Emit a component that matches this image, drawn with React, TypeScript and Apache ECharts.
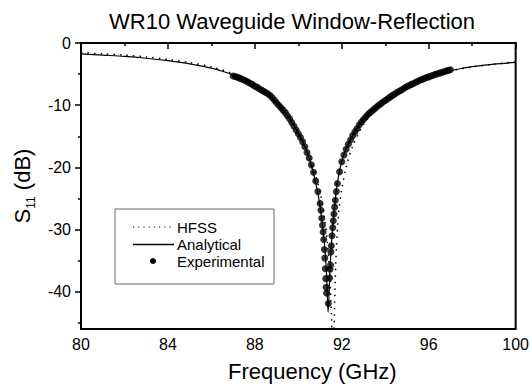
import React, { useEffect, useRef } from "react";
import * as echarts from "echarts";

const FONT = "'Liberation Sans', Arial, Helvetica, sans-serif";

const titleText = "WR10 Waveguide Window-Reflection";
const xName = "Frequency (GHz)";
const legendNames = ["HFSS", "Analytical", "Experimental"];

const xTicks = [80, 84, 88, 92, 96, 100];
const yMajorTicks = [-40, -30, -20, -10, 0];
const yMinorTicks = [-45, -35, -25, -15, -5];

const analyticalFreq = [
  80, 81, 82, 83, 84, 85, 86, 86.5, 87, 87.5, 88, 88.5, 89, 89.5, 90, 90.3, 90.5, 90.7, 90.9,
  91.0, 91.1, 91.2, 91.3, 91.37, 91.44, 91.5, 91.6, 91.7, 91.8, 92.0, 92.2, 92.5, 93.0, 93.5,
  94.0, 94.5, 95.0, 95.5, 96.0, 96.5, 97.0, 97.5, 98.0, 99.0, 100,
];
const analyticalS11 = [
  -1.75, -1.95, -2.15, -2.45, -2.85, -3.35, -4.05, -4.55, -5.15, -5.95, -6.95, -8.15, -9.7,
  -11.7, -14.5, -16.7, -18.6, -21.0, -24.2, -26.3, -29.0, -32.3, -37.2, -43.3, -38.0, -33.6,
  -28.8, -25.2, -22.4, -19.0, -17.0, -14.9, -12.3, -10.6, -9.25, -8.05, -7.0, -6.15, -5.45,
  -4.9, -4.45, -4.1, -3.8, -3.4, -3.12,
];

const hfssFreq = [
  80, 81, 82, 83, 84, 85, 86, 87, 88, 89, 89.5, 90, 90.5, 90.8, 91.05, 91.2, 91.35, 91.45,
  91.52, 91.56, 91.6, 91.64, 91.68, 91.75, 91.85, 92.0, 92.2, 92.5, 93.0, 93.5, 94, 95, 96, 97,
  98, 99, 100,
];
const hfssS11 = [
  -1.55, -1.75, -1.95, -2.25, -2.65, -3.15, -3.85, -4.95, -6.8, -9.5, -11.5, -14.2, -18.0,
  -21.3, -24.8, -28.0, -32.5, -37.5, -43.5, -48, -52, -47, -40.5, -33.0, -27.5, -23.5, -20.0,
  -16.6, -13.1, -10.9, -9.45, -7.05, -5.5, -4.5, -3.85, -3.4, -3.05,
];

const expFreq = [
  87.0, 87.1, 87.2, 87.3, 87.4, 87.5, 87.6, 87.7, 87.8, 87.9, 88.0, 88.1, 88.2, 88.3, 88.4,
  88.5, 88.6, 88.7, 88.8, 88.9, 89.0, 89.1, 89.2, 89.3, 89.4, 89.5, 89.6, 89.7, 89.8, 89.9,
  90.0, 90.1, 90.2, 90.3, 90.4, 90.5, 90.6, 90.7, 90.8, 90.9, 91.0, 91.04, 91.08, 91.11, 91.14,
  91.17, 91.2, 91.22, 91.24, 91.26, 91.28, 91.3, 91.38, 91.44, 91.46, 91.48, 91.5, 91.52,
  91.55, 91.58, 91.61, 91.64, 91.67, 91.7, 91.75, 91.8, 91.9, 92.0, 92.1, 92.2, 92.3, 92.4,
  92.5, 92.6, 92.7, 92.8, 92.9, 93.0, 93.1, 93.2, 93.3, 93.4, 93.5, 93.6, 93.7, 93.8, 93.9,
  94.0, 94.1, 94.2, 94.3, 94.4, 94.5, 94.6, 94.7, 94.8, 94.9, 95.0, 95.1, 95.2, 95.3, 95.4,
  95.5, 95.6, 95.7, 95.8, 95.9, 96.0, 96.1, 96.2, 96.3, 96.4, 96.5, 96.6, 96.7, 96.8, 96.9,
  97.0,
];
const expS11 = [
  -5.3, -5.4, -5.5, -5.65, -5.8, -5.95, -6.1, -6.3, -6.5, -6.7, -6.95, -7.1, -7.35, -7.55,
  -7.75, -7.95, -8.15, -8.45, -8.8, -9.2, -9.6, -10.0, -10.4, -10.8, -11.2, -11.7, -12.2,
  -12.8, -13.4, -14.0, -14.6, -15.2, -15.9, -16.7, -17.6, -18.5, -19.6, -20.8, -22.2, -23.9,
  -25.8, -26.9, -28.2, -29.3, -30.4, -31.6, -33.2, -34.6, -36.3, -37.9, -39.3, -40.2, -41.9,
  -37.8, -36.4, -35.7, -33.6, -32.6, -31.0, -29.7, -28.6, -27.5, -26.4, -25.3, -23.9, -22.6,
  -20.7, -19.1, -18.0, -17.1, -16.3, -15.6, -14.9, -14.3, -13.8, -13.2, -12.7, -12.3, -11.9,
  -11.5, -11.2, -10.9, -10.6, -10.3, -10.0, -9.75, -9.5, -9.25, -9.0, -8.75, -8.5, -8.3, -8.05,
  -7.85, -7.65, -7.45, -7.2, -7.0, -6.85, -6.65, -6.5, -6.3, -6.15, -6.0, -5.85, -5.7, -5.55,
  -5.45, -5.3, -5.2, -5.05, -4.95, -4.85, -4.75, -4.62, -4.5, -4.4, -4.3,
];

const zip = (a: number[], b: number[]) => a.map((x, i) => [x, b[i]]);

export default function App() {
  const ref = useRef<HTMLDivElement>(null);
  useEffect(() => {
    if (!ref.current) return;
    const chart = echarts.init(ref.current, null, { renderer: "svg" });
    const black = "#000";
    const lx = 115,
      ly = 209;
    chart.setOption({
      animation: false,
      backgroundColor: "#fff",
      title: {
        text: titleText,
        left: 104,
        top: 5,
        textStyle: { fontFamily: FONT, fontSize: 22, fontWeight: "normal", color: black },
      },
      grid: {
        left: 81,
        top: 43,
        width: 438,
        height: 286,
        show: true,
        borderColor: black,
        borderWidth: 2,
        backgroundColor: "transparent",
        containLabel: false,
      },
      xAxis: {
        type: "value",
        min: 80,
        max: 100,
        interval: 4,
        name: xName,
        nameLocation: "middle",
        nameGap: 31,
        nameTextStyle: { fontFamily: FONT, fontSize: 22, color: black, padding: [0, 0, 0, 28] },
        axisLine: { show: true, lineStyle: { color: black, width: 2 } },
        axisTick: { show: true, inside: false, length: 6, customValues: xTicks, lineStyle: { color: black, width: 1.5 } },
        minorTick: { show: true, splitNumber: 2, length: 3, lineStyle: { color: black, width: 1.5 } },
        splitLine: { show: false },
        axisLabel: { fontFamily: FONT, fontSize: 16, color: black, margin: 7, customValues: xTicks },
      },
      yAxis: [
        {
          type: "value",
          min: -46,
          max: 0,
          name: "{s|S}{sub|11}{s| (dB)}",
          nameLocation: "middle",
          nameRotate: 90,
          nameGap: 47,
          nameTextStyle: {
            fontFamily: FONT,
            color: black,
            rich: {
              s: { fontFamily: FONT, fontSize: 22, color: black },
              sub: { fontFamily: FONT, fontSize: 12, color: black, verticalAlign: "bottom", padding: [0, 0, -3, 0] },
            },
          },
          axisLine: { show: true, lineStyle: { color: black, width: 2 } },
          axisTick: { show: true, inside: false, length: 6, customValues: yMajorTicks, lineStyle: { color: black, width: 1.5 } },
          splitLine: { show: false },
          axisLabel: { fontFamily: FONT, fontSize: 16, color: black, margin: 10, customValues: yMajorTicks },
        },
        {
          type: "value",
          min: -46,
          max: 0,
          position: "left",
          axisLine: { show: false },
          axisTick: { show: true, inside: false, length: 3, customValues: yMinorTicks, lineStyle: { color: black, width: 1.5 } },
          splitLine: { show: false },
          axisLabel: { show: false },
        },
      ],
      series: [
        {
          name: legendNames[2],
          type: "scatter",
          data: zip(expFreq, expS11),
          symbol: "circle",
          symbolSize: 7,
          itemStyle: { color: black },
          z: 2,
        },
        {
          name: legendNames[0],
          type: "line",
          data: zip(hfssFreq, hfssS11),
          showSymbol: false,
          smooth: 0.3,
          clip: true,
          lineStyle: { color: black, width: 1.5, type: [1.5, 5] },
          z: 3,
        },
        {
          name: legendNames[1],
          type: "line",
          data: zip(analyticalFreq, analyticalS11),
          showSymbol: false,
          smooth: 0.3,
          clip: true,
          lineStyle: { color: black, width: 1.2 },
          z: 4,
        },
      ],
      graphic: [
        {
          type: "rect",
          shape: { x: lx, y: ly, width: 159, height: 75 },
          style: { fill: "#fff", stroke: "#666", lineWidth: 1 },
          z: 10,
        },
        {
          type: "line",
          shape: { x1: 133, y1: 227, x2: 174, y2: 227 },
          style: { stroke: black, lineWidth: 1.2, lineDash: [1.2, 4] },
          z: 11,
        },
        {
          type: "line",
          shape: { x1: 133, y1: 244.5, x2: 174, y2: 244.5 },
          style: { stroke: black, lineWidth: 1.4 },
          z: 11,
        },
        { type: "circle", shape: { cx: 153, cy: 261, r: 3 }, style: { fill: black }, z: 11 },
        ...legendNames.map((n, i) => ({
          type: "text",
          x: 177,
          y: 227 + i * 17,
          style: { text: n, fontFamily: FONT, fontSize: 15, fill: black, textVerticalAlign: "middle" },
          z: 11,
        })),
      ],
    });
    return () => chart.dispose();
  }, []);
  return (
    <div
      ref={ref}
      style={{ position: "fixed", left: 0, top: 0, width: 532, height: 388, background: "#fff" }}
    />
  );
}
